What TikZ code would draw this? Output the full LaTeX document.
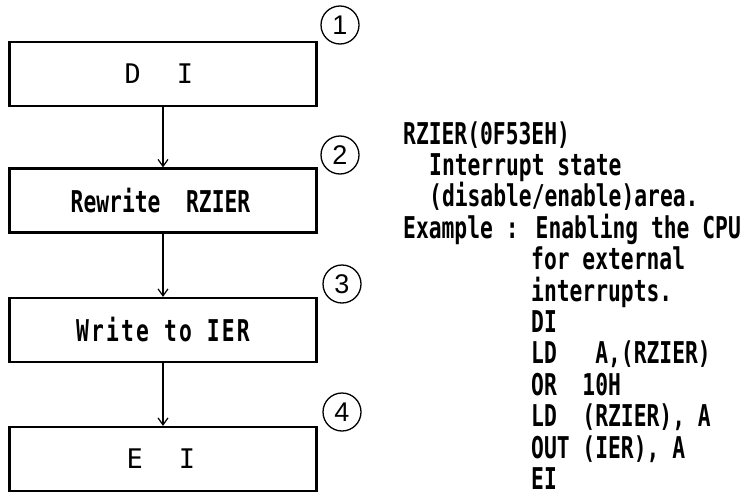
\documentclass[tikz,border=0pt]{standalone}
\usepackage{fontspec}
\newfontfamily\mono[FakeStretch=0.71]{DejaVu Sans Mono}
\newfontfamily\monoreg{DejaVu Sans Mono}
\newfontfamily\monols[FakeStretch=0.71,LetterSpace=7.3]{DejaVu Sans Mono}
\newfontfamily\digitfont{Liberation Sans}
\usetikzlibrary{arrows.meta}
\begin{document}
\begin{tikzpicture}[x=1pt,y=-1pt,
  box/.style={draw,line width=2.2pt,minimum width=307pt,minimum height=64pt,inner sep=0pt,
    font=\mono\bfseries\fontsize{30}{30}\selectfont},
  thinbox/.style={box,font=\monoreg\fontsize{27}{27}\selectfont},
  num/.style={draw,circle,line width=1.3pt,minimum size=38pt,inner sep=0pt,
    font=\digitfont\fontsize{27}{27}\selectfont},
  flow/.style={-{Straight Barb[length=7pt,width=10pt]},line width=1.2pt},
  txt/.style={anchor=base west,inner sep=0pt,font=\mono\bfseries\fontsize{30}{30}\selectfont}]
\useasboundingbox[fill=white] (0,0) rectangle (741,500);

% flow boxes
\node[thinbox] (b1) at (163,74) {\hspace*{-8pt}D\hspace{36pt}I};
\node[thinbox] (b4) at (163,459) {\hspace*{-4pt}E\hspace{36pt}I};
\node[box] (b2) at (163,200.5) {\hspace*{-5pt}Rewrite\ \ RZIER};
\node[box] (b3) at (163,330) {{\monols\bfseries Write to IER}};

\draw[flow] (b1.south) -- (b2.north);
\draw[flow] (b2.south) -- (b3.north);
\draw[flow] (b3.south) -- (b4.north);

% step numbers
\node[num] (c1) at (340,25) {1};
\node[num] (c2) at (340,155) {2};
\node[num] (c3) at (342,284) {3};
\node[num] (c4) at (342,412) {4};

% explanation text
\node[txt] (t0) at (403,144) {RZIER(0F53EH)};
\node[txt] (t1) at (429,175.4) {Interrupt state};
\node[txt] (t2) at (429,206.8) {(disable/enable)area.};
\node[txt] (t3) at (403,238.2) {Example : Enabling the CPU};
\node[txt] (t4) at (531,269.6) {for external};
\node[txt] (t5) at (531,301) {interrupts.};
\node[txt] (t6) at (531,332.4) {DI};
\node[txt] (t7) at (531,363.8) {LD\ \ \ A,(RZIER)};
\node[txt] (t8) at (531,395.2) {OR\ \ 10H};
\node[txt] (t9) at (531,426.6) {LD\ \ (RZIER), A};
\node[txt] (t10) at (531,458) {OUT (IER), A};
\node[txt] (t11) at (531,489.4) {EI};
\end{tikzpicture}
\end{document}
